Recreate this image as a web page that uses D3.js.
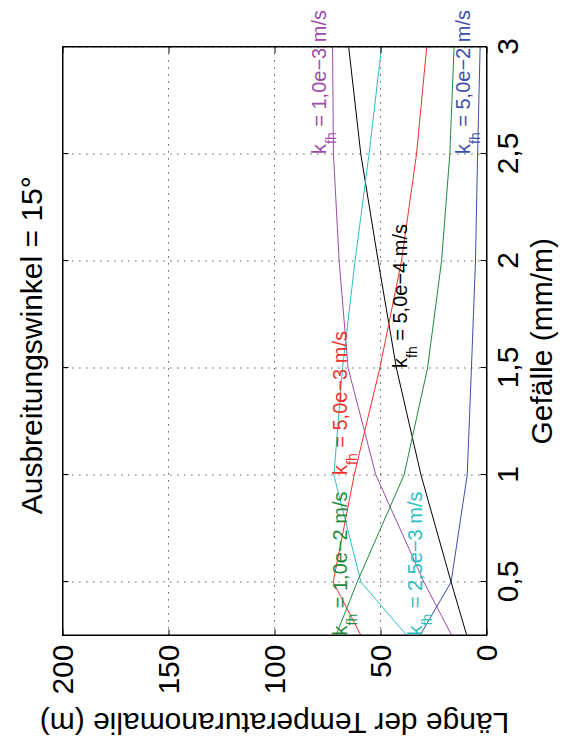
<!DOCTYPE html>
<html>
<head>
<meta charset="utf-8">
<script src="https://cdn.jsdelivr.net/npm/d3@7"></script>
<style>
  body { margin: 0; background: #fff; }
  svg text { font-family: "Liberation Sans", Arial, Helvetica, sans-serif; }
  .grid line { stroke: #333; stroke-dasharray: 1.2 5.8; }
  .axis path, .axis line { stroke: #000; }
</style>
</head>
<body>
<svg width="565" height="740"></svg>
<script>
// Gefälle (mm/m) sample points
const gefaelle = [0.25, 0.5, 1, 1.5, 2, 2.5, 3];

// Länge der Temperaturanomalie (m), one array per k_fh
const k5e4 = [9.3, 16.7, 30.9, 42.5, 51.1, 59.3, 65];
const k1e3 = [16.4, 29.5, 52.2, 65.3, 69.5, 72.2, 72.6];
const k25e3 = [37.6, 59.2, 72, 67.9, 62, 55.4, 49.5];
const k5e3 = [59.2, 72.3, 62.4, 50.3, 40.1, 33, 28.2];
const k1e2 = [71, 61, 38.9, 27.8, 21.2, 17.3, 15.3];
const k5e2 = [31.4, 16.7, 9.1, 7.1, 5.2, 4.2, 3];

// label texts and where they start (Gefälle, Länge)
const labelText = ["1,0e−3 m/s", "5,0e−2 m/s", "5,0e−4 m/s", "5,0e−3 m/s", "1,0e−2 m/s", "2,5e−3 m/s"];
const labelG = [2.5, 2.5, 1.5, 1, 0.25, 0.25];
const labelL = [75.7, 7.9, 37.6, 65.9, 65.9, 30.5];

const gTicks = [0.5, 1, 1.5, 2, 2.5, 3];
const lTicks = [0, 50, 100, 150, 200];

const series = [
  { values: k5e4, color: "#000000" },
  { values: k1e3, color: "#9b4ca6" },
  { values: k25e3, color: "#2bc0c0" },
  { values: k5e3, color: "#f0302a" },
  { values: k1e2, color: "#1f8a3c" },
  { values: k5e2, color: "#3d4fa8" }
];
const labelColor = ["#9b4ca6", "#3d4fa8", "#000000", "#f0302a", "#1f8a3c", "#2bc0c0"];

const svg = d3.select("svg");

// whole figure is drawn upright and turned by -90 degrees
const fig = svg.append("g").attr("transform", "translate(0,740) rotate(-90)");

const x = d3.scaleLinear().domain([0.25, 3]).range([104.5, 693]);
const y = d3.scaleLinear().domain([0, 200]).range([486.5, 62.5]);

const fmt = d => String(d).replace(".", ",");

// grid
fig.append("g").attr("class", "grid")
  .selectAll("line").data(gTicks).enter().append("line")
  .attr("x1", d => x(d)).attr("x2", d => x(d))
  .attr("y1", y(0)).attr("y2", y(200));
fig.append("g").attr("class", "grid")
  .selectAll("line").data(lTicks).enter().append("line")
  .attr("x1", x(0.25)).attr("x2", x(3))
  .attr("y1", d => y(d)).attr("y2", d => y(d));

// lines
const line = d3.line()
  .x((d, i) => x(gefaelle[i]))
  .y(d => y(d));

fig.selectAll("path.series").data(series).enter().append("path")
  .attr("class", "series")
  .attr("d", d => line(d.values))
  .attr("fill", "none")
  .attr("stroke", d => d.color)
  .attr("stroke-width", 1);

// axes (ticks point inward, box on)
fig.append("g").attr("class", "axis")
  .attr("transform", `translate(0,${y(0)})`)
  .call(d3.axisBottom(x).tickValues(gTicks).tickFormat(fmt).tickSizeInner(-6).tickSizeOuter(0).tickPadding(10.5));
fig.append("g").attr("class", "axis")
  .attr("transform", `translate(${x(0.25)},0)`)
  .call(d3.axisLeft(y).tickValues(lTicks).tickFormat(fmt).tickSizeInner(-6).tickSizeOuter(0).tickPadding(9));
fig.append("g").attr("class", "axis")
  .attr("transform", `translate(0,${y(200)})`)
  .call(d3.axisTop(x).tickValues(gTicks).tickFormat("").tickSizeInner(-6).tickSizeOuter(0));
fig.append("g").attr("class", "axis")
  .attr("transform", `translate(${x(3)},0)`)
  .call(d3.axisRight(y).tickValues(lTicks).tickFormat("").tickSizeInner(-6).tickSizeOuter(0));

fig.selectAll(".axis text").attr("font-size", 30).attr("fill", "#000")
  .style("font-family", '"Liberation Sans", Arial, sans-serif');

fig.append("rect")
  .attr("x", x(0.25)).attr("y", y(200))
  .attr("width", x(3) - x(0.25)).attr("height", y(0) - y(200))
  .attr("fill", "none").attr("stroke", "#000").attr("stroke-width", 1);

// curve labels
const labels = fig.selectAll("text.lab").data(labelText).enter().append("text")
  .attr("class", "lab")
  .attr("x", (d, i) => x(labelG[i]))
  .attr("y", (d, i) => y(labelL[i]))
  .attr("fill", (d, i) => labelColor[i])
  .attr("font-size", 20);
labels.append("tspan").text("k");
labels.append("tspan").attr("dy", 10).attr("font-size", 14).text("fh");
labels.append("tspan").attr("dy", -10).text(d => " = " + d);

// titles
const mid = (x(0.25) + x(3)) / 2;
fig.append("text")
  .attr("x", mid - 4).attr("y", 42)
  .attr("text-anchor", "middle").attr("font-size", 30)
  .text("Ausbreitungswinkel = 15°");
fig.append("text")
  .attr("x", mid).attr("y", 552)
  .attr("text-anchor", "middle").attr("font-size", 30)
  .text("Gefälle (mm/m)");
fig.append("text")
  .attr("transform", `translate(27.5,${(y(0) + y(200)) / 2}) rotate(-90)`)
  .attr("text-anchor", "middle").attr("font-size", 30)
  .text("Länge der Temperaturanomalie (m)");
</script>
</body>
</html>
